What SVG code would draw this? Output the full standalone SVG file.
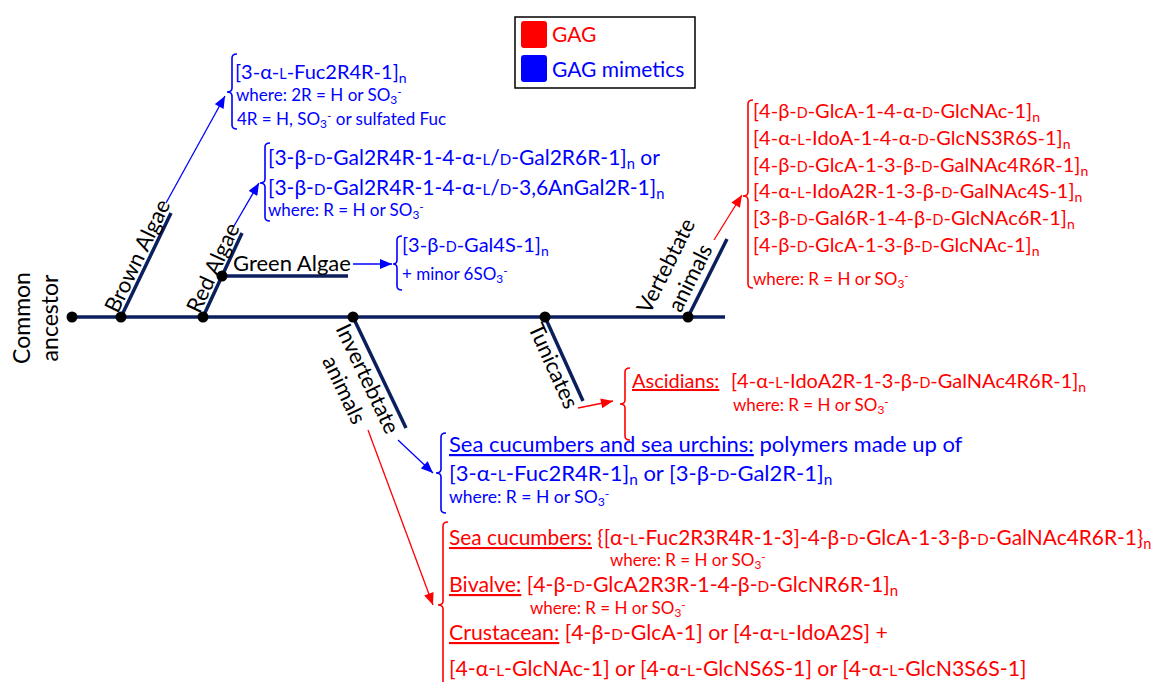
<svg xmlns="http://www.w3.org/2000/svg" width="1159" height="682" viewBox="0 0 1159 682">
<defs>
<style>
text{font-family:Lato,"Open Sans","Noto Sans",sans-serif}
.b{font-size:20px}.s{font-size:17px}.lb{font-size:22px}.k{fill:#000}.r{fill:#f00}.u{fill:#00f}
.sc{font-size:72%}.sb{font-size:70%}.ul{text-decoration:underline}
.ln{stroke:#0b1f5c;stroke-width:3.5;fill:none}
.dot{fill:#000}
.arb{stroke:#00f;stroke-width:1.3;fill:none;marker-end:url(#ahb)}
.arr{stroke:#f00;stroke-width:1.3;fill:none;marker-end:url(#ahr)}
.bkb{stroke:#00f;stroke-width:1.6;fill:none}
.bkr{stroke:#f00;stroke-width:1.6;fill:none}
</style>
<marker id="ahb" viewBox="0 0 12 10" refX="12" refY="5" markerWidth="13" markerHeight="10" markerUnits="userSpaceOnUse" orient="auto"><path d="M0,0L12,5L0,10z" fill="#00f"/></marker>
<marker id="ahr" viewBox="0 0 12 10" refX="12" refY="5" markerWidth="13" markerHeight="10" markerUnits="userSpaceOnUse" orient="auto"><path d="M0,0L12,5L0,10z" fill="#f00"/></marker>
</defs>
<rect width="1159" height="682" fill="#fff"/>

<g id="connectors">
<line class="ln" x1="72" y1="317" x2="725" y2="317"/>
<line class="ln" x1="121" y1="317" x2="171" y2="213"/>
<line class="ln" x1="203" y1="317" x2="242" y2="233"/>
<line class="ln" x1="222" y1="276" x2="348" y2="276"/>
<line class="ln" x1="353" y1="317" x2="406" y2="428"/>
<line class="ln" x1="545" y1="317" x2="583" y2="401"/>
<line class="ln" x1="688" y1="317" x2="727" y2="239"/>
<line class="arb" x1="166" y1="203" x2="225" y2="96"/>
<line class="arb" x1="234" y1="226" x2="259" y2="183"/>
<line class="arb" x1="353" y1="264" x2="392" y2="264"/>
<line class="arr" x1="714" y1="240" x2="742" y2="195"/>
<line class="arr" x1="578" y1="408" x2="613" y2="401"/>
<line class="arb" x1="398" y1="440" x2="433" y2="473"/>
<line class="arr" x1="368" y1="430" x2="433" y2="605"/>
</g>

<g id="legend">
<rect x="515" y="17" width="180" height="71" fill="#fff" stroke="#000" stroke-width="1.5"/>
<rect x="521" y="21" width="26" height="27" rx="3" fill="#f00"/>
<rect x="521" y="55" width="26" height="27" rx="3" fill="#00f"/>
<text x="552" y="42" class="r" font-size="21">GAG</text>
<text x="552" y="77" class="u" font-size="21">GAG mimetics</text>
</g>

<g id="common-ancestor">
<circle class="dot" cx="72" cy="317" r="5.5"/>
<text class="k" font-size="23" text-anchor="middle" transform="translate(30,318) rotate(-90)">Common</text>
<text class="k" font-size="23" text-anchor="middle" transform="translate(58,318) rotate(-90)">ancestor</text>
</g>

<g id="brown-algae">
<circle class="dot" cx="121" cy="317" r="5.5"/>
<text class="lb k" transform="translate(121,317) rotate(-64.3)" x="1" y="-4">Brown Algae</text>
</g>

<g id="red-algae">
<circle class="dot" cx="203" cy="317" r="5.5"/>
<text class="lb k" transform="translate(203,317) rotate(-65.1)" x="1" y="-4">Red Algae</text>
</g>

<g id="green-algae">
<circle class="dot" cx="222" cy="276" r="5.5"/>
<text class="lb k" x="233" y="271">Green Algae</text>
</g>

<g id="invertebrate">
<circle class="dot" cx="353" cy="317" r="5.5"/>
<text class="lb k" text-anchor="middle" transform="translate(353,317) rotate(64.5)"><tspan x="62" y="21">Invertebtate</tspan><tspan x="62" y="47">animals</tspan></text>
</g>

<g id="tunicates">
<circle class="dot" cx="545" cy="317" r="5.5"/>
<text class="lb k" text-anchor="middle" transform="translate(545,317) rotate(65.7)" x="48" y="20">Tunicates</text>
</g>

<g id="vertebrate">
<circle class="dot" cx="688" cy="317" r="5.5"/>
<text class="lb k" text-anchor="middle" transform="translate(688,317) rotate(-63.4)"><tspan x="36" y="-35">Vertebtate</tspan><tspan x="36" y="-8">animals</tspan></text>
</g>

<g id="brown-algae-gag">
<path class="bkb" d="M237,54 Q232,54 232,58 V88 Q232,92 227,92 Q232,92 232,96 V125 Q232,129 237,129"/>
<text x="235" y="79" class="b u">[3-α-<tspan class="sc">L</tspan>-Fuc2R4R-1]<tspan class="sb" dy="4">n</tspan></text>
<text x="236" y="101" class="s u">where: 2R = H or SO<tspan class="sb" dy="3">3</tspan><tspan class="sb" dy="-8">-</tspan></text>
<text x="237" y="125" class="s u">4R = H, SO<tspan class="sb" dy="3">3</tspan><tspan class="sb" dy="-8">-</tspan><tspan dy="5"> or sulfated Fuc</tspan></text>
</g>

<g id="red-algae-gag">
<path class="bkb" d="M270,143 Q265,143 265,147 V179 Q265,183 260,183 Q265,183 265,187 V217 Q265,221 270,221"/>
<text x="268" y="165" class="u" font-size="21">[3-β-<tspan class="sc">D</tspan>-Gal2R4R-1-4-α-<tspan class="sc">L</tspan>/<tspan class="sc">D</tspan>-Gal2R6R-1]<tspan class="sb" dy="4">n</tspan><tspan dy="-4"> or</tspan></text>
<text x="268" y="195" class="u" font-size="21">[3-β-<tspan class="sc">D</tspan>-Gal2R4R-1-4-α-<tspan class="sc">L</tspan>/<tspan class="sc">D</tspan>-3,6AnGal2R-1]<tspan class="sb" dy="4">n</tspan></text>
<text x="268" y="216" class="s u">where: R = H or SO<tspan class="sb" dy="3">3</tspan><tspan class="sb" dy="-8">-</tspan></text>
</g>

<g id="green-algae-gag">
<path class="bkb" d="M402,236 Q397,236 397,240 V260 Q397,264 393,264 Q397,264 397,268 V286 Q397,290 402,290"/>
<text x="402" y="252" class="b u">[3-β-<tspan class="sc">D</tspan>-Gal4S-1]<tspan class="sb" dy="4">n</tspan></text>
<text x="402" y="280" class="s u">+ minor 6SO<tspan class="sb" dy="3">3</tspan><tspan class="sb" dy="-8">-</tspan></text>
</g>

<g id="vertebrate-gag">
<path class="bkr" d="M753,100 Q748,100 748,104 V192 Q748,196 743,196 Q748,196 748,200 V284 Q748,288 753,288"/>
<text x="753" y="118" class="b r">[4-β-<tspan class="sc">D</tspan>-GlcA-1-4-α-<tspan class="sc">D</tspan>-GlcNAc-1]<tspan class="sb" dy="4">n</tspan></text>
<text x="753" y="145" class="b r">[4-α-<tspan class="sc">L</tspan>-IdoA-1-4-α-<tspan class="sc">D</tspan>-GlcNS3R6S-1]<tspan class="sb" dy="4">n</tspan></text>
<text x="753" y="172" class="b r">[4-β-<tspan class="sc">D</tspan>-GlcA-1-3-β-<tspan class="sc">D</tspan>-GalNAc4R6R-1]<tspan class="sb" dy="4">n</tspan></text>
<text x="753" y="198" class="b r">[4-α-<tspan class="sc">L</tspan>-IdoA2R-1-3-β-<tspan class="sc">D</tspan>-GalNAc4S-1]<tspan class="sb" dy="4">n</tspan></text>
<text x="753" y="225" class="b r">[3-β-<tspan class="sc">D</tspan>-Gal6R-1-4-β-<tspan class="sc">D</tspan>-GlcNAc6R-1]<tspan class="sb" dy="4">n</tspan></text>
<text x="753" y="252" class="b r">[4-β-<tspan class="sc">D</tspan>-GlcA-1-3-β-<tspan class="sc">D</tspan>-GlcNAc-1]<tspan class="sb" dy="4">n</tspan></text>
<text x="753" y="285" class="s r">where: R = H or SO<tspan class="sb" dy="3">3</tspan><tspan class="sb" dy="-8">-</tspan></text>
</g>

<g id="ascidians-gag">
<path class="bkr" d="M630,368 Q625,368 625,372 V400 Q625,404 620,404 Q625,404 625,408 V436 Q625,440 630,440"/>
<text x="632" y="388" class="b r"><tspan class="ul">Ascidians:</tspan><tspan x="731">[4-α-<tspan class="sc">L</tspan>-IdoA2R-1-3-β-<tspan class="sc">D</tspan>-GalNAc4R6R-1]</tspan><tspan class="sb" dy="4">n</tspan></text>
<text x="733" y="411" class="s r">where: R = H or SO<tspan class="sb" dy="3">3</tspan><tspan class="sb" dy="-8">-</tspan></text>
</g>

<g id="echinoderm-mimetics">
<path class="bkb" d="M446,433 Q441,433 441,437 V469 Q441,473 436,473 Q441,473 441,477 V509 Q441,513 446,513"/>
<text x="449" y="452" class="u" font-size="22"><tspan class="ul">Sea cucumbers and sea urchins:</tspan> polymers made up of</text>
<text x="449" y="481" class="u" font-size="22">[3-α-<tspan class="sc">L</tspan>-Fuc2R4R-1]<tspan class="sb" dy="4">n</tspan><tspan dy="-4"> or [3-β-</tspan><tspan class="sc">D</tspan>-Gal2R-1]<tspan class="sb" dy="4">n</tspan></text>
<text x="449" y="503" class="u" font-size="17.5">where: R = H or SO<tspan class="sb" dy="3">3</tspan><tspan class="sb" dy="-8">-</tspan></text>
</g>

<g id="invertebrate-gag">
<path class="bkr" d="M448,522 Q443,522 443,526 V601 Q443,605 438,605 Q443,605 443,609 V686 Q443,690 448,690"/>
<text x="449" y="545" class="r" font-size="20.9"><tspan class="ul">Sea cucumbers:</tspan> {[α-<tspan class="sc">L</tspan>-Fuc2R3R4R-1-3]-4-β-<tspan class="sc">D</tspan>-GlcA-1-3-β-<tspan class="sc">D</tspan>-GalNAc4R6R-1}<tspan class="sb" dy="4">n</tspan></text>
<text x="610" y="566" class="s r">where: R = H or SO<tspan class="sb" dy="3">3</tspan><tspan class="sb" dy="-8">-</tspan></text>
<text x="449" y="592" class="r" font-size="21.3"><tspan class="ul">Bivalve:</tspan> [4-β-<tspan class="sc">D</tspan>-GlcA2R3R-1-4-β-<tspan class="sc">D</tspan>-GlcNR6R-1]<tspan class="sb" dy="4">n</tspan></text>
<text x="530" y="614" class="s r">where: R = H or SO<tspan class="sb" dy="3">3</tspan><tspan class="sb" dy="-8">-</tspan></text>
<text x="449" y="640" class="r" font-size="21.3"><tspan class="ul">Crustacean:</tspan> [4-β-<tspan class="sc">D</tspan>-GlcA-1] or [4-α-<tspan class="sc">L</tspan>-IdoA2S] +</text>
<text x="449" y="676" class="r" font-size="21.3">[4-α-<tspan class="sc">L</tspan>-GlcNAc-1] or [4-α-<tspan class="sc">L</tspan>-GlcNS6S-1] or [4-α-<tspan class="sc">L</tspan>-GlcN3S6S-1]</text>
</g>
</svg>
